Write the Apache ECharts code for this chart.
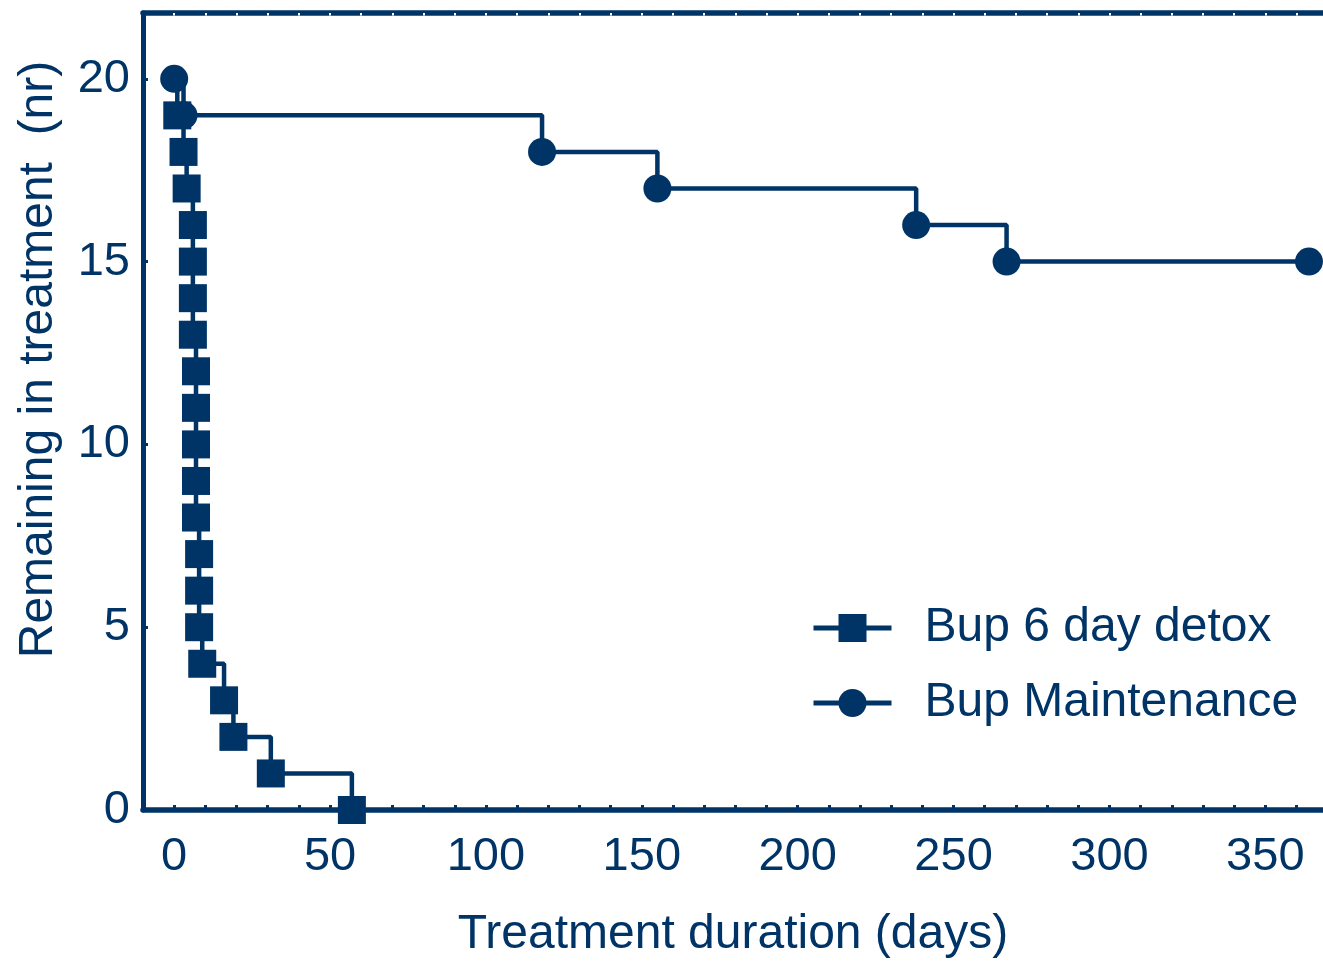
<!DOCTYPE html>
<html>
<head>
<meta charset="utf-8">
<script src="https://cdn.jsdelivr.net/npm/echarts@6/dist/echarts.min.js"></script>
<style>
html,body{margin:0;padding:0;background:#fff;}
#chart{width:1323px;height:961px;}
</style>
</head>
<body>
<div id="chart"></div>
<script>
// Data (Kaplan-Meier style step curves)
const detoxDays = [0, 1, 3, 4, 6, 6, 6, 6, 7, 7, 7, 7, 7, 8, 8, 8, 9, 16, 19, 31, 57];
const detoxRemaining = [20, 19, 18, 17, 16, 15, 14, 13, 12, 11, 10, 9, 8, 7, 6, 5, 4, 3, 2, 1, 0];
const maintDays = [0, 3, 118, 155, 238, 267, 364];
const maintRemaining = [20, 19, 18, 17, 16, 15, 15];
const seriesNames = ['Bup 6 day detox', 'Bup Maintenance'];
const xTickLabels = [0, 50, 100, 150, 200, 250, 300, 350];
const xMinorTicks = [0,10,20,30,40,50,60,70,80,90,100,110,120,130,140,150,160,170,180,190,200,210,220,230,240,250,260,270,280,290,300,310,320,330,340,350,360];
const yTickLabels = [0, 5, 10, 15, 20];
const xTitle = 'Treatment duration (days)';
const yTitle = 'Remaining in treatment  (nr)';

const NAVY = '#003466';
const FONT = "'Liberation Sans', Arial, sans-serif";

const chart = echarts.init(document.getElementById('chart'), null, {renderer: 'canvas'});

const detoxData = detoxDays.map((d, i) => [d, detoxRemaining[i]]);
const maintData = maintDays.map((d, i) => [d, maintRemaining[i]]);

const option = {
  animation: false,
  backgroundColor: '#ffffff',
  grid: {left: 143, right: 0, top: 13, bottom: 151, containLabel: false, outerBoundsMode: 'none'},
  legend: {
    left: 806, top: 599, orient: 'vertical',
    itemWidth: 78, itemHeight: 35, itemGap: 27,
    lineStyle: {width: 5},
    textStyle: {color: NAVY, fontSize: 48, fontFamily: FONT, padding: [0, 0, 0, 28], lineHeight: 48},
    data: seriesNames
  },
  xAxis: [{
    type: 'value', min: -10, max: 368.5, position: 'bottom',
    name: xTitle, nameLocation: 'middle', nameGap: 101,
    nameTextStyle: {color: NAVY, fontSize: 48, fontFamily: FONT},
    axisLine: {show: true, onZero: false, lineStyle: {color: NAVY, width: 5.5}},
    axisTick: {show: true, inside: true, length: 5, customValues: xMinorTicks, lineStyle: {color: NAVY, width: 3}},
    axisLabel: {show: true, customValues: xTickLabels, margin: 24, color: NAVY, fontSize: 47, fontFamily: FONT},
    splitLine: {show: false}
  }, {
    type: 'value', min: -10, max: 368.5, position: 'top',
    axisLine: {show: true, onZero: false, lineStyle: {color: NAVY, width: 5.5}},
    axisTick: {show: true, inside: true, length: 2.5, customValues: xMinorTicks, lineStyle: {color: '#ffffff', width: 2}},
    axisLabel: {show: false},
    splitLine: {show: false}
  }],
  yAxis: [{
    type: 'value', min: 0, max: 21.8, position: 'left',
    name: yTitle, nameLocation: 'middle', nameGap: 80, nameRotate: 90,
    nameTextStyle: {color: NAVY, fontSize: 48, fontFamily: FONT, padding: [0, 0, 0, 104]},
    axisLine: {show: true, onZero: false, lineStyle: {color: NAVY, width: 5}},
    axisTick: {show: true, inside: true, length: 5, customValues: yTickLabels.filter(v => v > 0), lineStyle: {color: NAVY, width: 3}},
    axisLabel: {show: true, customValues: yTickLabels, margin: 13, color: NAVY, fontSize: 47, fontFamily: FONT},
    splitLine: {show: false}
  }],
  series: [{
    name: seriesNames[0], type: 'line', step: 'end', clip: false,
    data: detoxData,
    symbol: 'rect',
    symbolSize: (val, params) => params.dataIndex === 0 ? 0 : 28,
    showAllSymbol: true,
    lineStyle: {color: NAVY, width: 4.5},
    itemStyle: {color: NAVY},
    z: 3
  }, {
    name: seriesNames[1], type: 'line', step: 'end', clip: false,
    data: maintData,
    symbol: 'circle', symbolSize: 28,
    showAllSymbol: true,
    lineStyle: {color: NAVY, width: 4.5},
    itemStyle: {color: NAVY},
    z: 4
  }]
};
chart.setOption(option);
</script>
</body>
</html>
